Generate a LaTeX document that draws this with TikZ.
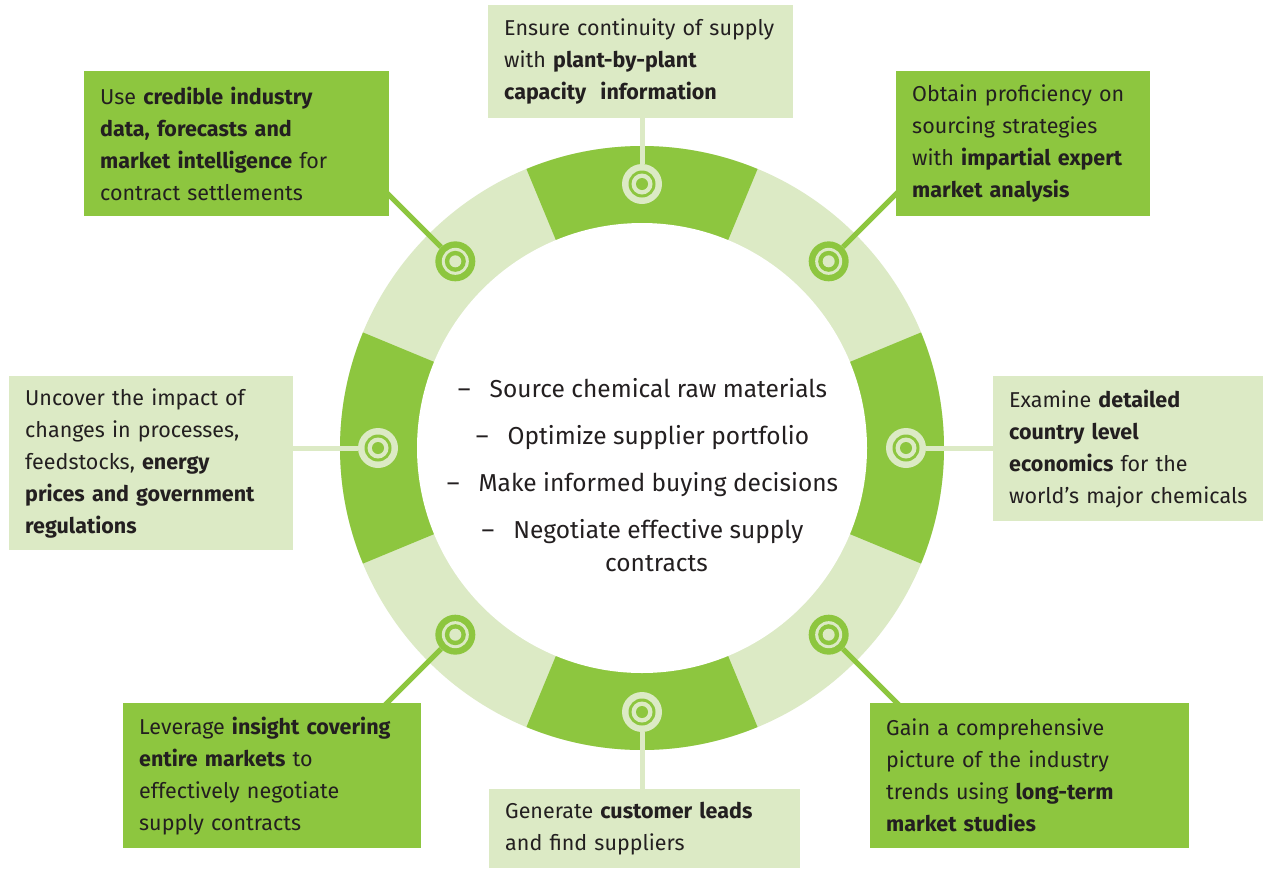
\documentclass[tikz,border=0pt]{standalone}
\usepackage{fontspec}
\setmainfont{Fira Sans}
\usetikzlibrary{backgrounds,calc}
\definecolor{gdark}{HTML}{8DC63F}
\definecolor{glight}{HTML}{DCEAC5}
\definecolor{txt}{HTML}{231F20}
\tikzset{
  boxbase/.style={rectangle, anchor=north west, inner xsep=0pt, inner ysep=0pt,
    align=left, text=txt, font=\fontsize{21.5}{32}\selectfont,
    execute at begin node={\leftskip=16pt\relax}},
  bx/.style n args={3}{boxbase, fill=#1, text width=#2, minimum height=#3},
  icon/.style n args={2}{circle, inner sep=0pt, minimum size=40pt, fill=#1,
    path picture={
      \fill[#2] (path picture bounding box.center) circle[radius=13.5pt];
      \fill[#1] (path picture bounding box.center) circle[radius=10.5pt];
      \fill[#2] (path picture bounding box.center) circle[radius=6pt];}},
  iconL/.style={icon={glight}{gdark}},
  iconD/.style={icon={gdark}{glight}},
  conn/.style={line width=5pt, draw=#1},
}
\begin{document}
\begin{tikzpicture}[x=1pt, y=-1pt]
\useasboundingbox (0,0) rectangle (1263,868);
\coordinate (C) at (642,448);

% background and ring
\begin{pgfonlayer}{background}
\fill[white] (0,0) rectangle (1263,868);
\fill[glight] (C) circle[radius=302];
\foreach \s/\e in {-22.5/22.5, 67.5/112.5, 157.5/202.5, 247.5/292.5}{
  \fill[gdark] (C) -- ($(C)+(\s:302)$) arc[start angle=\s, end angle=\e, radius=302] -- cycle;
}
\fill[white] (C) circle[radius=225];
\end{pgfonlayer}

% icons
\node[iconL] (i1) at ($(C)+(-90:264)$) {};
\node[iconD] (i2) at ($(C)+(-45:264)$) {};
\node[iconL] (i3) at ($(C)+(0:264)$) {};
\node[iconD] (i4) at ($(C)+(45:264)$) {};
\node[iconL] (i5) at ($(C)+(90:264)$) {};
\node[iconD] (i6) at ($(C)+(135:264)$) {};
\node[iconL] (i7) at ($(C)+(180:264)$) {};
\node[iconD] (i8) at ($(C)+(-135:264)$) {};

% boxes
\node[bx={glight}{305pt}{113pt}] (b1) at (488,5)
  {Ensure continuity of supply\\ with \textbf{plant-by-plant}\\ \textbf{capacity\ \ information}};
\node[bx={gdark}{254pt}{145pt}] (b2) at (896,71)
  {Obtain proficiency on\\ sourcing strategies\\ with \textbf{impartial expert}\\ \textbf{market analysis}};
\node[bx={glight}{270pt}{145pt}] (b3) at (993,376)
  {Examine \textbf{detailed}\\ \textbf{country level}\\ \textbf{economics} for the\\ world’s major chemicals};
\node[bx={gdark}{319pt}{145pt}] (b4) at (870,703)
  {Gain a comprehensive\\ picture of the industry\\ trends using \textbf{long-term}\\ \textbf{market studies}};
\node[bx={glight}{311pt}{79pt}] (b5) at (489,789)
  {Generate \textbf{customer leads}\\ and find suppliers};
\node[bx={gdark}{298pt}{145pt}] (b6) at (123,703)
  {Leverage \textbf{insight covering}\\ \textbf{entire markets} to\\ effectively negotiate\\ supply contracts};
\node[bx={glight}{284pt}{174pt}] (b7) at (9,376)
  {Uncover the impact of\\ changes in processes,\\ feedstocks, \textbf{energy}\\ \textbf{prices and government}\\ \textbf{regulations}};
\node[bx={gdark}{305pt}{145pt}] (b8) at (84,71)
  {Use \textbf{credible industry}\\ \textbf{data, forecasts and}\\ \textbf{market intelligence} for\\ contract settlements};

% centre text
\node[font=\fontsize{24.5}{33}\selectfont, text=txt, align=center, anchor=base] (ctr) at (642.5,571)
  {–\hspace{19pt}Source chemical raw materials\\[14pt]
   –\hspace{19pt}Optimize supplier portfolio\\[14pt]
   –\hspace{19pt}Make informed buying decisions\\[14pt]
   –\hspace{19pt}Negotiate effective supply\\
   \hspace*{28pt}contracts};

% connectors
\coordinate (e2) at ($(C)+(-45:380)$);
\coordinate (e4) at ($(C)+(45:380)$);
\coordinate (e6) at ($(C)+(135:380)$);
\coordinate (e8) at ($(C)+(-135:380)$);
\begin{pgfonlayer}{background}
\draw[conn=glight] (i1) -- (i1 |- b1.center);
\draw[conn=glight] (i3) -- (i3 -| b3.center);
\draw[conn=glight] (i5) -- (i5 |- b5.center);
\draw[conn=glight] (i7) -- (i7 -| b7.center);
\draw[conn=gdark] (i2) -- (e2);
\draw[conn=gdark] (i4) -- (e4);
\draw[conn=gdark] (i6) -- (e6);
\draw[conn=gdark] (i8) -- (e8);
\end{pgfonlayer}
\end{tikzpicture}
\end{document}
